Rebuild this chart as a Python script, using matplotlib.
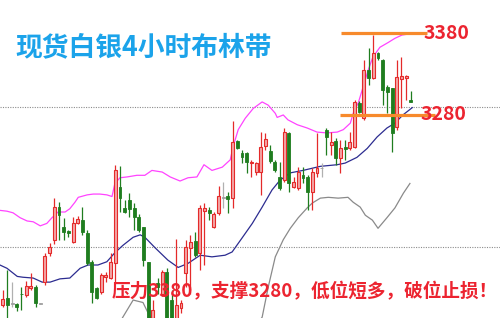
import matplotlib
matplotlib.use("Agg")
import matplotlib.pyplot as plt
import numpy as np

plt.rcParams['font.family'] = ['Noto Sans CJK SC', 'DejaVu Sans']

# 4小时K线 (开, 高, 低, 收)
opens = [3047, 3055, 3049, 3048, 3061, 3059, 3068, 3069, 3049, 3075,
         3111, 3127, 3167, 3142, 3138, 3124, 3147, 3151, 3135, 3100,
         3068, 3063, 3081, 3080, 3098, 3192, 3166, 3176, 3166, 3155,
         3142, 3100, 3031, 3074, 3061, 3087, 3053, 3028, 3043, 3086,
         3117, 3125, 3111, 3162, 3163, 3142, 3160, 3179, 3181, 3178,
         3248, 3233, 3233, 3221, 3210, 3210, 3242, 3236, 3222, 3204,
         3200, 3258, 3192, 3190, 3206, 3204, 3185, 3209, 3215, 3262,
         3243, 3248, 3227, 3241, 3239, 3241, 3295, 3276, 3335, 3325,
         3356, 3347, 3314, 3313, 3265, 3324, 3325, 3298]
highs = [3065, 3090, 3075, 3050, 3069, 3076, 3086, 3071, 3050, 3111,
         3123, 3178, 3173, 3154, 3139, 3155, 3156, 3167, 3139, 3102,
         3069, 3086, 3087, 3111, 3219, 3217, 3176, 3184, 3172, 3158,
         3142, 3100, 3053, 3080, 3090, 3092, 3065, 3128, 3053, 3127,
         3133, 3136, 3169, 3172, 3167, 3161, 3193, 3198, 3185, 3273,
         3249, 3237, 3235, 3225, 3222, 3259, 3258, 3243, 3225, 3222,
         3264, 3259, 3204, 3216, 3216, 3206, 3215, 3258, 3221, 3264,
         3259, 3252, 3249, 3249, 3259, 3298, 3297, 3347, 3362, 3378,
         3357, 3349, 3317, 3313, 3347, 3351, 3329, 3309]
lows = [3044, 3028, 3044, 3039, 3041, 3057, 3065, 3044, 3048, 3071,
        3107, 3122, 3127, 3127, 3130, 3123, 3146, 3133, 3096, 3050,
        3054, 3061, 3075, 3079, 3074, 3161, 3160, 3155, 3139, 3136,
        3095, 3025, 3027, 3061, 3058, 3025, 3025, 3025, 3037, 3069,
        3061, 3106, 3090, 3096, 3151, 3141, 3157, 3166, 3160, 3166,
        3238, 3221, 3209, 3204, 3206, 3182, 3237, 3221, 3210, 3188,
        3198, 3185, 3190, 3188, 3196, 3163, 3163, 3204, 3204, 3231,
        3231, 3219, 3209, 3225, 3237, 3239, 3282, 3274, 3317, 3324,
        3347, 3292, 3282, 3235, 3262, 3288, 3298, 3296]
closes = [3054, 3047, 3049, 3044, 3060, 3070, 3070, 3050, 3049, 3107,
          3118, 3167, 3157, 3136, 3135, 3147, 3153, 3136, 3098, 3063,
          3055, 3084, 3084, 3100, 3212, 3178, 3161, 3165, 3155, 3139,
          3102, 3028, 3041, 3069, 3087, 3028, 3028, 3047, 3049, 3118,
          3124, 3108, 3166, 3166, 3160, 3158, 3181, 3179, 3177, 3247,
          3239, 3228, 3222, 3222, 3221, 3241, 3250, 3223, 3212, 3190,
          3259, 3196, 3198, 3210, 3203, 3185, 3210, 3215, 3215, 3253,
          3247, 3227, 3239, 3238, 3247, 3296, 3284, 3335, 3325, 3356,
          3350, 3311, 3308, 3258, 3327, 3328, 3328, 3296]

# 布林带 (K线序号, 价格)
upper_idx = [-0.6, 0.9, 2.2, 3.7, 5.2, 6.5, 8.0, 9.4, 10.5, 11.8, 13.3, 14.3,
             15.4, 16.1, 18.0, 19.3, 20.7, 22.2, 23.3, 23.9, 25.0, 26.5, 28.6,
             30.3, 31.8, 34.0, 35.7, 37.8, 39.5, 41.4, 42.9, 44.6, 46.8, 48.5,
             49.1, 50.2, 51.7, 53.4, 55.3, 56.6, 58.1, 58.5, 59.8, 60.8, 62.8,
             64.9, 67.0, 69.1, 71.3, 72.6, 74.1, 74.7, 75.8, 76.8, 77.9, 78.9,
             80.4, 82.2, 83.6, 85.1, 86.2, 87.0]
upper = [3163, 3162, 3160, 3154, 3150, 3149, 3144, 3147, 3154, 3161, 3161, 3165,
         3173, 3179, 3182, 3183, 3183, 3182, 3180, 3196, 3203, 3204, 3206,
         3206, 3212, 3210, 3204, 3199, 3203, 3204, 3219, 3212, 3216, 3225,
         3241, 3262, 3276, 3288, 3296, 3292, 3282, 3277, 3280, 3274, 3268,
         3264, 3259, 3258, 3259, 3262, 3270, 3282, 3295, 3314, 3335, 3351,
         3363, 3369, 3374, 3378, 3379, 3379]
mid_idx = [-0.6, 0.9, 3.1, 4.3, 6.5, 8.4, 10.1, 12.2, 14.3, 16.5, 18.2, 20.3,
           22.2, 23.9, 25.6, 27.8, 29.3, 30.3, 32.5, 35.2, 37.4, 39.5, 42.1,
           44.6, 47.4, 48.9, 51.0, 53.2, 55.3, 57.4, 59.1, 61.3, 64.0, 67.7,
           71.3, 73.0, 75.5, 77.7, 79.8, 81.9, 83.6, 85.3, 87.3]
middle = [3096, 3092, 3082, 3081, 3080, 3075, 3075, 3079, 3080, 3092, 3096, 3096,
          3100, 3111, 3120, 3130, 3133, 3130, 3117, 3102, 3093, 3098, 3108,
          3106, 3108, 3112, 3129, 3147, 3167, 3188, 3200, 3209, 3212, 3217,
          3219, 3221, 3228, 3239, 3253, 3264, 3270, 3280, 3289]
low_idx = [23.0, 25.6, 27.8, 29.9, 31.0, 31.9, 36.0, 45.0, 52.0, 55.3, 56.6,
           58.1, 59.8, 61.3, 63.0, 64.9, 66.0, 67.7, 69.4, 71.5, 73.6, 74.7,
           76.2, 77.3, 78.8, 80.0, 81.9, 83.6, 85.4, 86.8]
lower = [3005, 3032, 3053, 3050, 3037, 3028, 3000, 2990, 3005, 3032, 3069,
         3106, 3127, 3141, 3154, 3166, 3172, 3178, 3179, 3178, 3179, 3173,
         3167, 3157, 3151, 3141, 3154, 3166, 3184, 3196]

price_lines = [3290, 3118]
resistance = 3380
support = 3280

fig = plt.figure(figsize=(5, 3.18), dpi=100)
ax = fig.add_axes([0, 0, 1, 1])
ax.set_xlim(-0.58, 106.0)
ax.set_ylim(3031, 3421)
ax.axis('off')

for p in price_lines:
    ax.axhline(p, color='#8c8c8c', lw=0.8, ls=(0, (1, 1.2)), zorder=1)

ax.plot(upper_idx, upper, color='#ff44ff', lw=0.9, zorder=2)
ax.plot(mid_idx, middle, color='#2c2c90', lw=0.9, zorder=2)
ax.plot(low_idx, lower, color='#8a8a8a', lw=0.9, zorder=2)

x = np.arange(len(opens))
o = np.array(opens); h = np.array(highs); l = np.array(lows); c = np.array(closes)
up = c > o
down = c < o
doji = c == o

ax.vlines(x[up], l[up], h[up], color='#e42a2a', lw=0.9, zorder=3)
ax.vlines(x[down], l[down], h[down], color='#1f7d1f', lw=0.9, zorder=3)
ax.vlines(x[doji], l[doji], h[doji], color='#b0b0b0', lw=0.9, zorder=3)

w = 0.62
ax.bar(x[up], (c - o)[up], bottom=o[up], width=w, facecolor='#f3a6a6',
       edgecolor='#e42a2a', lw=0.8, zorder=4)
ax.bar(x[down], (o - c)[down], bottom=c[down], width=w, facecolor='#1f7d1f',
       edgecolor='#1f7d1f', lw=0.6, zorder=4)
ax.bar(x[doji], 1.0, bottom=c[doji] - 0.5, width=w, facecolor='#a0a0a0',
       edgecolor='#a0a0a0', lw=0.6, zorder=4)

# 压力 / 支撑
ax.hlines(resistance, 72.1, 90.5, color='#f78a2c', lw=2.3, zorder=5)
ax.hlines(support, 71.9, 92.2, color='#f78a2c', lw=2.3, zorder=5)
ax.text(89.6, resistance, str(resistance), color='#ec2430', fontsize=14,
        fontweight='bold', va='center', ha='left', zorder=6)
ax.text(89.0, support, str(support), color='#ec2430', fontsize=14,
        fontweight='bold', va='center', ha='left', zorder=6)

fig.text(0.03, 0.852, '现货白银4小时布林带', color='#1ba3ea', fontsize=19.3,
         fontweight='bold', va='center', ha='left')
fig.text(0.224, 0.082, '压力3380，支撑3280，低位短多，破位止损！', color='#ec2430',
         fontsize=13.4, fontweight='bold', va='center', ha='left', zorder=7)

fig.savefig('out.png', dpi=100)
